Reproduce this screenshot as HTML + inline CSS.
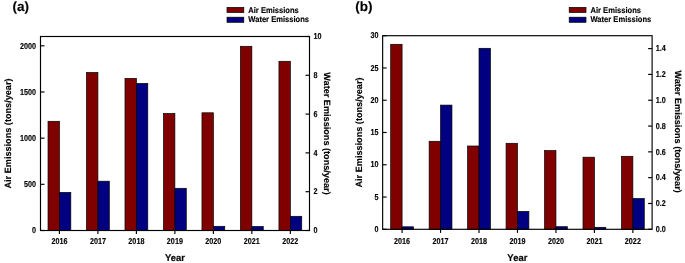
<!DOCTYPE html>
<html><head><meta charset="utf-8"><style>
html,body{margin:0;padding:0;background:#fff;}
body{width:685px;height:263px;overflow:hidden;}
svg{display:block;font-family:"Liberation Sans", sans-serif;will-change:transform;filter:blur(0.3px);text-rendering:geometricPrecision;}
text{stroke:#000;stroke-width:0.15px;}
</style></head><body>
<svg width="685" height="263" viewBox="0 0 685 263" fill="#000">
<rect x="48.02" y="121.30" width="11.40" height="109.20" fill="#800000" stroke="#000" stroke-width="0.7"/>
<rect x="59.42" y="192.40" width="11.40" height="38.10" fill="#000080" stroke="#000" stroke-width="0.7"/>
<rect x="86.51" y="72.50" width="11.40" height="158.00" fill="#800000" stroke="#000" stroke-width="0.7"/>
<rect x="97.91" y="181.20" width="11.40" height="49.30" fill="#000080" stroke="#000" stroke-width="0.7"/>
<rect x="124.99" y="78.40" width="11.40" height="152.10" fill="#800000" stroke="#000" stroke-width="0.7"/>
<rect x="136.39" y="83.40" width="11.40" height="147.10" fill="#000080" stroke="#000" stroke-width="0.7"/>
<rect x="163.48" y="113.50" width="11.40" height="117.00" fill="#800000" stroke="#000" stroke-width="0.7"/>
<rect x="174.88" y="188.30" width="11.40" height="42.20" fill="#000080" stroke="#000" stroke-width="0.7"/>
<rect x="201.96" y="112.80" width="11.40" height="117.70" fill="#800000" stroke="#000" stroke-width="0.7"/>
<rect x="213.36" y="226.30" width="11.40" height="4.20" fill="#000080" stroke="#000" stroke-width="0.7"/>
<rect x="240.45" y="46.30" width="11.40" height="184.20" fill="#800000" stroke="#000" stroke-width="0.7"/>
<rect x="251.85" y="226.50" width="11.40" height="4.00" fill="#000080" stroke="#000" stroke-width="0.7"/>
<rect x="278.94" y="61.30" width="11.40" height="169.20" fill="#800000" stroke="#000" stroke-width="0.7"/>
<rect x="290.34" y="216.30" width="11.40" height="14.20" fill="#000080" stroke="#000" stroke-width="0.7"/>
<rect x="40.5" y="36.5" width="269.00" height="194.00" fill="none" stroke="#000" stroke-width="1.15"/>
<line x1="40.5" y1="230.50" x2="44.5" y2="230.50" stroke="#000" stroke-width="1.15"/>
<text transform="translate(36.00,233.20) scale(0.84,1)" font-size="8.6" text-anchor="end" font-weight="bold" >0</text>
<line x1="40.5" y1="184.32" x2="44.5" y2="184.32" stroke="#000" stroke-width="1.15"/>
<text transform="translate(36.00,187.03) scale(0.84,1)" font-size="8.6" text-anchor="end" font-weight="bold" >500</text>
<line x1="40.5" y1="138.15" x2="44.5" y2="138.15" stroke="#000" stroke-width="1.15"/>
<text transform="translate(36.00,140.85) scale(0.84,1)" font-size="8.6" text-anchor="end" font-weight="bold" >1000</text>
<line x1="40.5" y1="91.97" x2="44.5" y2="91.97" stroke="#000" stroke-width="1.15"/>
<text transform="translate(36.00,94.68) scale(0.84,1)" font-size="8.6" text-anchor="end" font-weight="bold" >1500</text>
<line x1="40.5" y1="45.80" x2="44.5" y2="45.80" stroke="#000" stroke-width="1.15"/>
<text transform="translate(36.00,48.50) scale(0.84,1)" font-size="8.6" text-anchor="end" font-weight="bold" >2000</text>
<line x1="305.5" y1="230.50" x2="309.5" y2="230.50" stroke="#000" stroke-width="1.15"/>
<text transform="translate(313.60,233.20) scale(0.84,1)" font-size="8.6" text-anchor="start" font-weight="bold" >0</text>
<line x1="305.5" y1="191.70" x2="309.5" y2="191.70" stroke="#000" stroke-width="1.15"/>
<text transform="translate(313.60,194.40) scale(0.84,1)" font-size="8.6" text-anchor="start" font-weight="bold" >2</text>
<line x1="305.5" y1="152.90" x2="309.5" y2="152.90" stroke="#000" stroke-width="1.15"/>
<text transform="translate(313.60,155.60) scale(0.84,1)" font-size="8.6" text-anchor="start" font-weight="bold" >4</text>
<line x1="305.5" y1="114.10" x2="309.5" y2="114.10" stroke="#000" stroke-width="1.15"/>
<text transform="translate(313.60,116.80) scale(0.84,1)" font-size="8.6" text-anchor="start" font-weight="bold" >6</text>
<line x1="305.5" y1="75.30" x2="309.5" y2="75.30" stroke="#000" stroke-width="1.15"/>
<text transform="translate(313.60,78.00) scale(0.84,1)" font-size="8.6" text-anchor="start" font-weight="bold" >8</text>
<line x1="305.5" y1="36.50" x2="309.5" y2="36.50" stroke="#000" stroke-width="1.15"/>
<text transform="translate(313.60,39.20) scale(0.84,1)" font-size="8.6" text-anchor="start" font-weight="bold" >10</text>
<line x1="59.42" y1="230.5" x2="59.42" y2="234.10" stroke="#000" stroke-width="1.15"/>
<text transform="translate(59.42,244.40) scale(0.84,1)" font-size="8.6" text-anchor="middle" font-weight="bold" >2016</text>
<line x1="97.91" y1="230.5" x2="97.91" y2="234.10" stroke="#000" stroke-width="1.15"/>
<text transform="translate(97.91,244.40) scale(0.84,1)" font-size="8.6" text-anchor="middle" font-weight="bold" >2017</text>
<line x1="136.39" y1="230.5" x2="136.39" y2="234.10" stroke="#000" stroke-width="1.15"/>
<text transform="translate(136.39,244.40) scale(0.84,1)" font-size="8.6" text-anchor="middle" font-weight="bold" >2018</text>
<line x1="174.88" y1="230.5" x2="174.88" y2="234.10" stroke="#000" stroke-width="1.15"/>
<text transform="translate(174.88,244.40) scale(0.84,1)" font-size="8.6" text-anchor="middle" font-weight="bold" >2019</text>
<line x1="213.36" y1="230.5" x2="213.36" y2="234.10" stroke="#000" stroke-width="1.15"/>
<text transform="translate(213.36,244.40) scale(0.84,1)" font-size="8.6" text-anchor="middle" font-weight="bold" >2020</text>
<line x1="251.85" y1="230.5" x2="251.85" y2="234.10" stroke="#000" stroke-width="1.15"/>
<text transform="translate(251.85,244.40) scale(0.84,1)" font-size="8.6" text-anchor="middle" font-weight="bold" >2021</text>
<line x1="290.34" y1="230.5" x2="290.34" y2="234.10" stroke="#000" stroke-width="1.15"/>
<text transform="translate(290.34,244.40) scale(0.84,1)" font-size="8.6" text-anchor="middle" font-weight="bold" >2022</text>
<text x="0" y="0" font-size="9.15" font-weight="bold" text-anchor="middle" transform="translate(10.90,133.50) rotate(-90)">Air Emissions (tons/year)</text>
<text x="0" y="0" font-size="9.15" font-weight="bold" text-anchor="middle" transform="translate(324.40,133.50) rotate(90)">Water Emissions (tons/year)</text>
<text transform="translate(175.00,260.70) scale(0.98,1)" font-size="9.7" text-anchor="middle" font-weight="bold" >Year</text>
<text x="12.50" y="11.20" font-size="13.5" text-anchor="start" font-weight="bold" >(a)</text>
<rect x="227.00" y="7.4" width="16.8" height="5.1" fill="#800000" stroke="#000" stroke-width="0.7"/>
<rect x="227.00" y="17.2" width="16.8" height="5.1" fill="#000080" stroke="#000" stroke-width="0.7"/>
<text transform="translate(248.30,12.70) scale(0.925,1)" font-size="8.2" text-anchor="start" font-weight="bold" >Air Emissions</text>
<text transform="translate(248.30,22.35) scale(0.925,1)" font-size="8.2" text-anchor="start" font-weight="bold" >Water Emissions</text>
<rect x="390.69" y="44.30" width="11.40" height="185.00" fill="#800000" stroke="#000" stroke-width="0.7"/>
<rect x="402.09" y="226.80" width="11.40" height="2.50" fill="#000080" stroke="#000" stroke-width="0.7"/>
<rect x="429.15" y="141.30" width="11.40" height="88.00" fill="#800000" stroke="#000" stroke-width="0.7"/>
<rect x="440.55" y="105.10" width="11.40" height="124.20" fill="#000080" stroke="#000" stroke-width="0.7"/>
<rect x="467.62" y="146.00" width="11.40" height="83.30" fill="#800000" stroke="#000" stroke-width="0.7"/>
<rect x="479.02" y="48.30" width="11.40" height="181.00" fill="#000080" stroke="#000" stroke-width="0.7"/>
<rect x="506.08" y="143.30" width="11.40" height="86.00" fill="#800000" stroke="#000" stroke-width="0.7"/>
<rect x="517.48" y="211.40" width="11.40" height="17.90" fill="#000080" stroke="#000" stroke-width="0.7"/>
<rect x="544.55" y="150.60" width="11.40" height="78.70" fill="#800000" stroke="#000" stroke-width="0.7"/>
<rect x="555.95" y="226.70" width="11.40" height="2.60" fill="#000080" stroke="#000" stroke-width="0.7"/>
<rect x="583.01" y="157.20" width="11.40" height="72.10" fill="#800000" stroke="#000" stroke-width="0.7"/>
<rect x="594.41" y="227.30" width="11.40" height="2.00" fill="#000080" stroke="#000" stroke-width="0.7"/>
<rect x="621.47" y="156.30" width="11.40" height="73.00" fill="#800000" stroke="#000" stroke-width="0.7"/>
<rect x="632.87" y="198.50" width="11.40" height="30.80" fill="#000080" stroke="#000" stroke-width="0.7"/>
<rect x="382.65" y="35.7" width="269.45" height="193.60" fill="none" stroke="#000" stroke-width="1.15"/>
<line x1="382.65" y1="229.30" x2="386.65" y2="229.30" stroke="#000" stroke-width="1.15"/>
<text transform="translate(378.50,232.00) scale(0.84,1)" font-size="8.6" text-anchor="end" font-weight="bold" >0</text>
<line x1="382.65" y1="197.03" x2="386.65" y2="197.03" stroke="#000" stroke-width="1.15"/>
<text transform="translate(378.50,199.73) scale(0.84,1)" font-size="8.6" text-anchor="end" font-weight="bold" >5</text>
<line x1="382.65" y1="164.77" x2="386.65" y2="164.77" stroke="#000" stroke-width="1.15"/>
<text transform="translate(378.50,167.47) scale(0.84,1)" font-size="8.6" text-anchor="end" font-weight="bold" >10</text>
<line x1="382.65" y1="132.50" x2="386.65" y2="132.50" stroke="#000" stroke-width="1.15"/>
<text transform="translate(378.50,135.20) scale(0.84,1)" font-size="8.6" text-anchor="end" font-weight="bold" >15</text>
<line x1="382.65" y1="100.23" x2="386.65" y2="100.23" stroke="#000" stroke-width="1.15"/>
<text transform="translate(378.50,102.93) scale(0.84,1)" font-size="8.6" text-anchor="end" font-weight="bold" >20</text>
<line x1="382.65" y1="67.97" x2="386.65" y2="67.97" stroke="#000" stroke-width="1.15"/>
<text transform="translate(378.50,70.67) scale(0.84,1)" font-size="8.6" text-anchor="end" font-weight="bold" >25</text>
<line x1="382.65" y1="35.70" x2="386.65" y2="35.70" stroke="#000" stroke-width="1.15"/>
<text transform="translate(378.50,38.40) scale(0.84,1)" font-size="8.6" text-anchor="end" font-weight="bold" >30</text>
<line x1="648.1" y1="229.30" x2="652.1" y2="229.30" stroke="#000" stroke-width="1.15"/>
<text transform="translate(655.80,232.00) scale(0.84,1)" font-size="8.6" text-anchor="start" font-weight="bold" >0.0</text>
<line x1="648.1" y1="203.49" x2="652.1" y2="203.49" stroke="#000" stroke-width="1.15"/>
<text transform="translate(655.80,206.19) scale(0.84,1)" font-size="8.6" text-anchor="start" font-weight="bold" >0.2</text>
<line x1="648.1" y1="177.67" x2="652.1" y2="177.67" stroke="#000" stroke-width="1.15"/>
<text transform="translate(655.80,180.37) scale(0.84,1)" font-size="8.6" text-anchor="start" font-weight="bold" >0.4</text>
<line x1="648.1" y1="151.86" x2="652.1" y2="151.86" stroke="#000" stroke-width="1.15"/>
<text transform="translate(655.80,154.56) scale(0.84,1)" font-size="8.6" text-anchor="start" font-weight="bold" >0.6</text>
<line x1="648.1" y1="126.05" x2="652.1" y2="126.05" stroke="#000" stroke-width="1.15"/>
<text transform="translate(655.80,128.75) scale(0.84,1)" font-size="8.6" text-anchor="start" font-weight="bold" >0.8</text>
<line x1="648.1" y1="100.23" x2="652.1" y2="100.23" stroke="#000" stroke-width="1.15"/>
<text transform="translate(655.80,102.93) scale(0.84,1)" font-size="8.6" text-anchor="start" font-weight="bold" >1.0</text>
<line x1="648.1" y1="74.42" x2="652.1" y2="74.42" stroke="#000" stroke-width="1.15"/>
<text transform="translate(655.80,77.12) scale(0.84,1)" font-size="8.6" text-anchor="start" font-weight="bold" >1.2</text>
<line x1="648.1" y1="48.61" x2="652.1" y2="48.61" stroke="#000" stroke-width="1.15"/>
<text transform="translate(655.80,51.31) scale(0.84,1)" font-size="8.6" text-anchor="start" font-weight="bold" >1.4</text>
<line x1="402.09" y1="229.3" x2="402.09" y2="232.90" stroke="#000" stroke-width="1.15"/>
<text transform="translate(402.09,244.20) scale(0.84,1)" font-size="8.6" text-anchor="middle" font-weight="bold" >2016</text>
<line x1="440.55" y1="229.3" x2="440.55" y2="232.90" stroke="#000" stroke-width="1.15"/>
<text transform="translate(440.55,244.20) scale(0.84,1)" font-size="8.6" text-anchor="middle" font-weight="bold" >2017</text>
<line x1="479.02" y1="229.3" x2="479.02" y2="232.90" stroke="#000" stroke-width="1.15"/>
<text transform="translate(479.02,244.20) scale(0.84,1)" font-size="8.6" text-anchor="middle" font-weight="bold" >2018</text>
<line x1="517.48" y1="229.3" x2="517.48" y2="232.90" stroke="#000" stroke-width="1.15"/>
<text transform="translate(517.48,244.20) scale(0.84,1)" font-size="8.6" text-anchor="middle" font-weight="bold" >2019</text>
<line x1="555.95" y1="229.3" x2="555.95" y2="232.90" stroke="#000" stroke-width="1.15"/>
<text transform="translate(555.95,244.20) scale(0.84,1)" font-size="8.6" text-anchor="middle" font-weight="bold" >2020</text>
<line x1="594.41" y1="229.3" x2="594.41" y2="232.90" stroke="#000" stroke-width="1.15"/>
<text transform="translate(594.41,244.20) scale(0.84,1)" font-size="8.6" text-anchor="middle" font-weight="bold" >2021</text>
<line x1="632.87" y1="229.3" x2="632.87" y2="232.90" stroke="#000" stroke-width="1.15"/>
<text transform="translate(632.87,244.20) scale(0.84,1)" font-size="8.6" text-anchor="middle" font-weight="bold" >2022</text>
<text x="0" y="0" font-size="9.15" font-weight="bold" text-anchor="middle" transform="translate(362.00,132.50) rotate(-90)">Air Emissions (tons/year)</text>
<text x="0" y="0" font-size="9.15" font-weight="bold" text-anchor="middle" transform="translate(674.90,131.60) rotate(90)">Water Emissions (tons/year)</text>
<text transform="translate(517.38,260.50) scale(0.98,1)" font-size="9.7" text-anchor="middle" font-weight="bold" >Year</text>
<text x="355.20" y="11.20" font-size="13.5" text-anchor="start" font-weight="bold" >(b)</text>
<rect x="569.20" y="7.4" width="16.8" height="5.1" fill="#800000" stroke="#000" stroke-width="0.7"/>
<rect x="569.20" y="17.2" width="16.8" height="5.1" fill="#000080" stroke="#000" stroke-width="0.7"/>
<text transform="translate(590.50,12.70) scale(0.925,1)" font-size="8.2" text-anchor="start" font-weight="bold" >Air Emissions</text>
<text transform="translate(590.50,22.35) scale(0.925,1)" font-size="8.2" text-anchor="start" font-weight="bold" >Water Emissions</text>
</svg>
</body></html>
